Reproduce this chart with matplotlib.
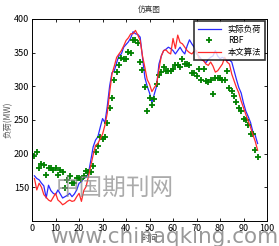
import matplotlib
matplotlib.use("Agg")
import matplotlib.pyplot as plt
import numpy as np

plt.rcParams['font.family'] = ['Noto Sans CJK SC', 'DejaVu Sans']

# sample index 1..96 (15 min points)
x = np.arange(1, 97)

actual = [167, 163, 161, 156, 152, 134, 153, 145, 141, 139,
          146, 140, 134, 136, 138, 141, 136, 140, 146, 156,
          158, 163, 165, 171, 190, 210, 220, 225, 239, 252,
          246, 270, 300, 320, 323, 335, 346, 348, 358, 362,
          366, 372, 381, 378, 377, 373, 343, 313, 300, 290,
          276, 288, 300, 333, 345, 353, 355, 358, 356, 353,
          348, 353, 358, 352, 348, 360, 369, 363, 358, 348,
          345, 340, 338, 335, 340, 343, 345, 353, 345, 341,
          343, 341, 338, 339, 336, 323, 310, 298, 290, 275,
          263, 255, 246, 232, 227, 215]

proposed = [163, 146, 156, 150, 139, 135, 131, 129, 135, 141,
            131, 128, 124, 126, 129, 131, 129, 130, 136, 141,
            129, 145, 151, 166, 182, 198, 212, 215, 222, 229,
            242, 260, 290, 318, 330, 343, 348, 353, 360, 368,
            372, 378, 378, 383, 376, 368, 345, 328, 310, 303,
            292, 298, 303, 325, 345, 353, 354, 350, 348, 371,
            356, 376, 365, 363, 358, 353, 350, 348, 352, 353,
            341, 340, 338, 333, 331, 336, 330, 321, 323, 328,
            333, 343, 336, 333, 318, 308, 298, 290, 278, 268,
            258, 248, 239, 228, 218, 205]

rbf = [197, 202, 179, 184, 183, 168, 179, 178, 175, 178,
       168, 175, 173, 149, 161, 167, 157, 156, 163, 163,
       162, 166, 174, 173, 172, 181, 202, 212, 225, 222,
       225, 246, 268, 283, 310, 321, 331, 342, 341, 340,
       351, 350, 368, 369, 364, 336, 324, 299, 263, 283,
       272, 281, 303, 316, 321, 328, 322, 322, 322, 326,
       331, 332, 329, 341, 333, 333, 331, 319, 319, 315,
       326, 309, 326, 308, 307, 309, 288, 312, 312, 312,
       309, 309, 322, 298, 293, 285, 276, 267, 263, 251,
       250, 242, 229, 229, 205, 195]

fig = plt.figure(figsize=(2.79, 2.46), dpi=100)
ax = fig.add_axes([0.115, 0.102, 0.842, 0.821])

ax.plot(x, actual, color='#2a2aff', lw=0.9, label='实际负荷')
ax.plot(x, rbf, '+', color='#008000', ms=4.5, mew=1.3, label='RBF')
ax.plot(x, proposed, color='#ff2a2a', lw=0.9, label='本文算法')

ax.set_xlim(0, 100)
ax.set_ylim(100, 400)
ax.set_xticks(range(0, 101, 10))
ax.set_yticks(range(150, 401, 50))
ax.tick_params(direction='in', top=True, right=True, labelsize=6.5,
               length=2.5, width=0.6, pad=2)
for s in ax.spines.values():
    s.set_linewidth(0.7)

ax.set_title('仿真图', fontsize=5.5, pad=5, color='#333333')
ax.set_ylabel('负荷(MW)', fontsize=6, labelpad=1, color='#555555')
ax.set_xlabel('时间', fontsize=6, labelpad=1, color='#555555')

leg = ax.legend(loc='upper right', fontsize=6, frameon=True, fancybox=False,
                borderpad=0.4, handlelength=2.8, labelspacing=0.3,
                borderaxespad=0.3, handletextpad=0.8)
leg.get_frame().set_edgecolor('black')
leg.get_frame().set_linewidth(1.2)

# site watermark
fig.text(0.41, 0.235, '中国期刊网', fontsize=17, color='#888888', alpha=0.7,
         ha='center', va='center', fontweight='light')
fig.text(0.59, 0.035, 'www.chinaqking.com', fontsize=15.5, color='#777777',
         alpha=0.75, ha='center', va='center', family='DejaVu Sans')

fig.savefig('out.png', dpi=100)
